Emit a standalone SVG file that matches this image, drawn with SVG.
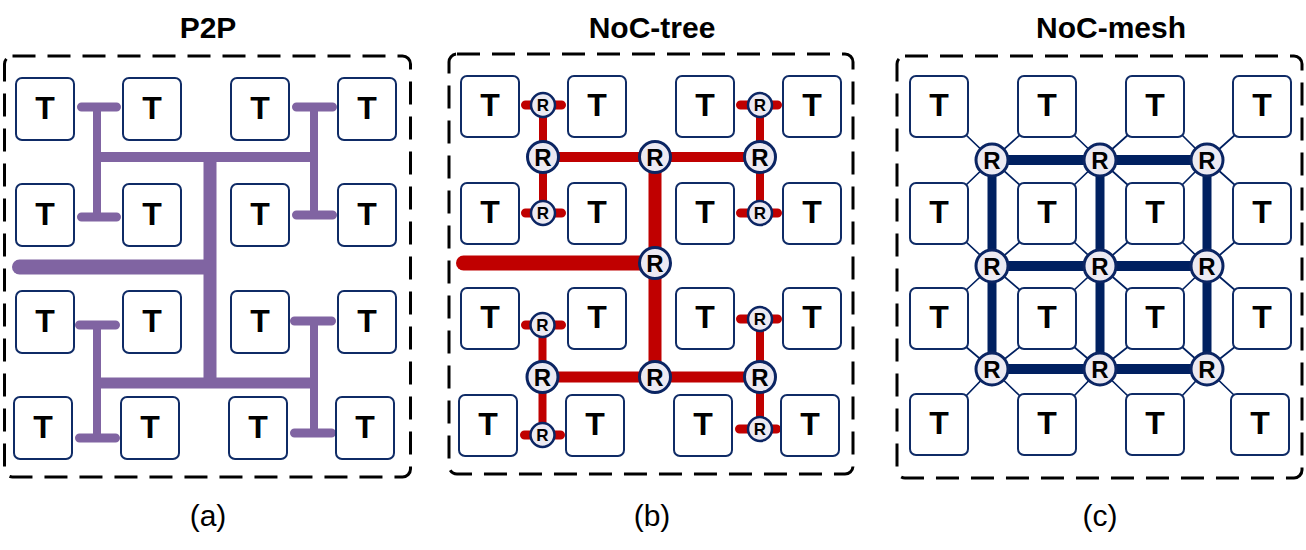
<svg xmlns="http://www.w3.org/2000/svg" width="1306" height="550" viewBox="0 0 1306 550">
<style>
.bg{fill:#ffffff}
.frame{fill:none;stroke:#000;stroke-width:3;stroke-dasharray:23 12}
.tile rect{fill:#fff;stroke:#0F2B66;stroke-width:2}
.tile text{font-family:"Liberation Sans",Arial,sans-serif;font-weight:bold;font-size:32px;text-anchor:middle;fill:#000}
.rt circle{fill:#ECEAF2;stroke:#0B2563;stroke-width:3}
.rt text{font-family:"Liberation Sans",Arial,sans-serif;font-weight:bold;font-size:24px;text-anchor:middle;fill:#000}
.rs circle{fill:#ECEAF2;stroke:#0B2563;stroke-width:2.5}
.rs text{font-family:"Liberation Sans",Arial,sans-serif;font-weight:bold;font-size:17px;text-anchor:middle;fill:#000}
.title{font-family:"Liberation Sans",Arial,sans-serif;font-weight:bold;font-size:30px;text-anchor:middle;fill:#000}
.cap{font-family:"Liberation Sans",Arial,sans-serif;font-size:30px;text-anchor:middle;fill:#000}
.pu{fill:none;stroke:#8064A2}
.rd{fill:none;stroke:#C00000}
.nv{fill:none;stroke:#002060}
</style>
<rect class="bg" x="0" y="0" width="1306" height="550"/>

<text class="title" x="208" y="38">P2P</text>
<text class="title" x="652" y="38">NoC-tree</text>
<text class="title" x="1111" y="38">NoC-mesh</text>
<text class="cap" x="208" y="526">(a)</text>
<text class="cap" x="652" y="526">(b)</text>
<text class="cap" x="1100" y="526">(c)</text>

<rect class="frame" x="4.5" y="56" width="406" height="421" rx="8"/>
<rect class="frame" x="449" y="54" width="404" height="420" rx="8"/>
<rect class="frame" x="897" y="56" width="405" height="422" rx="8"/>

<g id="connectors">
  <!-- (a) P2P purple tree -->
  <path class="pu" stroke-width="9" stroke-linecap="round" d="M81.5 107H116.5M81.5 217H116.5M296.5 107H332.5M296.5 215H332.5M79.5 325H115.5M79.5 438H115.5M294.5 321H331.5M294.5 433H331.5"/>
  <path class="pu" stroke-width="8" d="M97 107V217M314 107V215M97 325V438M314 321V433"/>
  <path class="pu" stroke-width="10" d="M97 157H314"/>
  <path class="pu" stroke-width="11" d="M97 383H314"/>
  <path class="pu" stroke-width="13" d="M210 157V383"/>
  <path class="pu" stroke-width="15" stroke-linecap="round" d="M19.5 267H208"/>
  <!-- (b) NoC-tree red -->
  <path class="rd" stroke-width="9" stroke-linecap="round" d="M525.5 105H561.5M525.5 213H561.5M525.5 325H561.5M524.5 435H560.5M740.5 105H777.5M740.5 213H777.5M740.5 319H777.5M739.5 429H776.5"/>
  <path class="rd" stroke-width="8" d="M543 105V213M760 105V213M542.5 325V435M760 319V429"/>
  <path class="rd" stroke-width="10" d="M543 157H760"/>
  <path class="rd" stroke-width="11" d="M542 377H760"/>
  <path class="rd" stroke-width="13" d="M655 157V377"/>
  <path class="rd" stroke-width="15" stroke-linecap="round" d="M463.5 263H655"/>
  <!-- (c) NoC-mesh -->
  <path class="nv" stroke-width="1.7" d="M992 160L965 134M992 160L1021 134M992 160L965 186M992 160L1021 186
  M1100 160L1073 134M1100 160L1129 134M1100 160L1073 186M1100 160L1129 186
  M1207 160L1181 134M1207 160L1236 134M1207 160L1181 186M1207 160L1236 186
  M992 266L965 241M992 266L1021 241M992 266L965 291M992 266L1021 291
  M1100 266L1073 241M1100 266L1129 241M1100 266L1073 291M1100 266L1129 291
  M1207 266L1181 241M1207 266L1236 241M1207 266L1181 291M1207 266L1236 291
  M992 369L965 346M992 369L1021 346M992 369L965 397M992 369L1021 397
  M1100 369L1073 346M1100 369L1129 346M1100 369L1073 397M1100 369L1129 397
  M1207 369L1181 346M1207 369L1236 346M1207 369L1181 397M1207 369L1236 397"/>
  <path class="nv" stroke-width="10" d="M992 160H1207M992 266H1207M992 369H1207"/>
  <path class="nv" stroke-width="9" d="M992 160V369M1100 160V369M1207 160V369"/>
</g>

<!-- (a) tiles -->
<g id="a-t11" class="tile"><rect x="16" y="78" width="58" height="62" rx="6"/><text x="45" y="119">T</text></g>
<g id="a-t12" class="tile"><rect x="123" y="78" width="58" height="62" rx="6"/><text x="152" y="119">T</text></g>
<g id="a-t13" class="tile"><rect x="231" y="78" width="58" height="62" rx="6"/><text x="260" y="119">T</text></g>
<g id="a-t14" class="tile"><rect x="338" y="78" width="58" height="62" rx="6"/><text x="367" y="119">T</text></g>
<g id="a-t21" class="tile"><rect x="16" y="184" width="58" height="62" rx="6"/><text x="45" y="225">T</text></g>
<g id="a-t22" class="tile"><rect x="123" y="184" width="58" height="62" rx="6"/><text x="152" y="225">T</text></g>
<g id="a-t23" class="tile"><rect x="231" y="184" width="58" height="62" rx="6"/><text x="260" y="225">T</text></g>
<g id="a-t24" class="tile"><rect x="338" y="184" width="58" height="62" rx="6"/><text x="367" y="225">T</text></g>
<g id="a-t31" class="tile"><rect x="16" y="291" width="58" height="62" rx="6"/><text x="45" y="332">T</text></g>
<g id="a-t32" class="tile"><rect x="123" y="291" width="58" height="62" rx="6"/><text x="152" y="332">T</text></g>
<g id="a-t33" class="tile"><rect x="231" y="291" width="58" height="62" rx="6"/><text x="260" y="332">T</text></g>
<g id="a-t34" class="tile"><rect x="338" y="291" width="58" height="62" rx="6"/><text x="367" y="332">T</text></g>
<g id="a-t41" class="tile"><rect x="14" y="397" width="58" height="62" rx="6"/><text x="43" y="438">T</text></g>
<g id="a-t42" class="tile"><rect x="121" y="397" width="58" height="62" rx="6"/><text x="150" y="438">T</text></g>
<g id="a-t43" class="tile"><rect x="229" y="397" width="58" height="62" rx="6"/><text x="258" y="438">T</text></g>
<g id="a-t44" class="tile"><rect x="336" y="397" width="58" height="62" rx="6"/><text x="365" y="438">T</text></g>

<!-- (b) tiles -->
<g id="b-t11" class="tile"><rect x="461" y="76" width="58" height="61" rx="6"/><text x="490" y="116">T</text></g>
<g id="b-t12" class="tile"><rect x="568" y="76" width="58" height="61" rx="6"/><text x="597" y="116">T</text></g>
<g id="b-t13" class="tile"><rect x="676" y="76" width="58" height="61" rx="6"/><text x="705" y="116">T</text></g>
<g id="b-t14" class="tile"><rect x="783" y="76" width="58" height="61" rx="6"/><text x="812" y="116">T</text></g>
<g id="b-t21" class="tile"><rect x="461" y="183" width="58" height="61" rx="6"/><text x="490" y="223">T</text></g>
<g id="b-t22" class="tile"><rect x="568" y="183" width="58" height="61" rx="6"/><text x="597" y="223">T</text></g>
<g id="b-t23" class="tile"><rect x="676" y="183" width="58" height="61" rx="6"/><text x="705" y="223">T</text></g>
<g id="b-t24" class="tile"><rect x="783" y="183" width="58" height="61" rx="6"/><text x="812" y="223">T</text></g>
<g id="b-t31" class="tile"><rect x="461" y="288" width="58" height="61" rx="6"/><text x="490" y="328">T</text></g>
<g id="b-t32" class="tile"><rect x="568" y="288" width="58" height="61" rx="6"/><text x="597" y="328">T</text></g>
<g id="b-t33" class="tile"><rect x="676" y="288" width="58" height="61" rx="6"/><text x="705" y="328">T</text></g>
<g id="b-t34" class="tile"><rect x="783" y="288" width="58" height="61" rx="6"/><text x="812" y="328">T</text></g>
<g id="b-t41" class="tile"><rect x="459" y="395" width="58" height="61" rx="6"/><text x="488" y="435">T</text></g>
<g id="b-t42" class="tile"><rect x="566" y="395" width="58" height="61" rx="6"/><text x="595" y="435">T</text></g>
<g id="b-t43" class="tile"><rect x="674" y="395" width="58" height="61" rx="6"/><text x="703" y="435">T</text></g>
<g id="b-t44" class="tile"><rect x="781" y="395" width="58" height="61" rx="6"/><text x="810" y="435">T</text></g>

<!-- (b) routers -->
<g id="b-rs1" class="rs"><circle cx="543" cy="105" r="12"/><text x="543" y="111">R</text></g>
<g id="b-rs2" class="rs"><circle cx="543" cy="213" r="12"/><text x="543" y="219">R</text></g>
<g id="b-rs3" class="rs"><circle cx="760" cy="105" r="12"/><text x="760" y="111">R</text></g>
<g id="b-rs4" class="rs"><circle cx="760" cy="213" r="12"/><text x="760" y="219">R</text></g>
<g id="b-rs5" class="rs"><circle cx="542.5" cy="325" r="12"/><text x="542.5" y="331">R</text></g>
<g id="b-rs6" class="rs"><circle cx="542.5" cy="435" r="12"/><text x="542.5" y="441">R</text></g>
<g id="b-rs7" class="rs"><circle cx="760" cy="319" r="12"/><text x="760" y="325">R</text></g>
<g id="b-rs8" class="rs"><circle cx="760" cy="429" r="12"/><text x="760" y="435">R</text></g>
<g id="b-rm1" class="rt"><circle cx="543" cy="157" r="15.5"/><text x="543" y="165.5">R</text></g>
<g id="b-rm2" class="rt"><circle cx="655" cy="157" r="15.5"/><text x="655" y="165.5">R</text></g>
<g id="b-rm3" class="rt"><circle cx="760" cy="157" r="15.5"/><text x="760" y="165.5">R</text></g>
<g id="b-rm4" class="rt"><circle cx="655" cy="263" r="15.5"/><text x="655" y="271.5">R</text></g>
<g id="b-rm5" class="rt"><circle cx="542.5" cy="377" r="15.5"/><text x="542.5" y="385.5">R</text></g>
<g id="b-rm6" class="rt"><circle cx="655" cy="377" r="15.5"/><text x="655" y="385.5">R</text></g>
<g id="b-rm7" class="rt"><circle cx="760" cy="377" r="15.5"/><text x="760" y="385.5">R</text></g>

<!-- (c) tiles -->
<g id="c-t11" class="tile"><rect x="910" y="76" width="58" height="61" rx="6"/><text x="939" y="116">T</text></g>
<g id="c-t12" class="tile"><rect x="1018" y="76" width="58" height="61" rx="6"/><text x="1047" y="116">T</text></g>
<g id="c-t13" class="tile"><rect x="1126" y="76" width="58" height="61" rx="6"/><text x="1155" y="116">T</text></g>
<g id="c-t14" class="tile"><rect x="1233" y="76" width="58" height="61" rx="6"/><text x="1262" y="116">T</text></g>
<g id="c-t21" class="tile"><rect x="910" y="183" width="58" height="61" rx="6"/><text x="939" y="223">T</text></g>
<g id="c-t22" class="tile"><rect x="1018" y="183" width="58" height="61" rx="6"/><text x="1047" y="223">T</text></g>
<g id="c-t23" class="tile"><rect x="1126" y="183" width="58" height="61" rx="6"/><text x="1155" y="223">T</text></g>
<g id="c-t24" class="tile"><rect x="1233" y="183" width="58" height="61" rx="6"/><text x="1262" y="223">T</text></g>
<g id="c-t31" class="tile"><rect x="910" y="288" width="58" height="61" rx="6"/><text x="939" y="328">T</text></g>
<g id="c-t32" class="tile"><rect x="1018" y="288" width="58" height="61" rx="6"/><text x="1047" y="328">T</text></g>
<g id="c-t33" class="tile"><rect x="1126" y="288" width="58" height="61" rx="6"/><text x="1155" y="328">T</text></g>
<g id="c-t34" class="tile"><rect x="1233" y="288" width="58" height="61" rx="6"/><text x="1262" y="328">T</text></g>
<g id="c-t41" class="tile"><rect x="910" y="394" width="58" height="61" rx="6"/><text x="939" y="434">T</text></g>
<g id="c-t42" class="tile"><rect x="1018" y="394" width="58" height="61" rx="6"/><text x="1047" y="434">T</text></g>
<g id="c-t43" class="tile"><rect x="1126" y="394" width="58" height="61" rx="6"/><text x="1155" y="434">T</text></g>
<g id="c-t44" class="tile"><rect x="1231" y="394" width="58" height="61" rx="6"/><text x="1260" y="434">T</text></g>

<!-- (c) routers -->
<g id="c-r11" class="rt"><circle cx="992" cy="160" r="16"/><text x="992" y="168.5">R</text></g>
<g id="c-r12" class="rt"><circle cx="1100" cy="160" r="16"/><text x="1100" y="168.5">R</text></g>
<g id="c-r13" class="rt"><circle cx="1207" cy="160" r="16"/><text x="1207" y="168.5">R</text></g>
<g id="c-r21" class="rt"><circle cx="992" cy="266" r="16"/><text x="992" y="274.5">R</text></g>
<g id="c-r22" class="rt"><circle cx="1100" cy="266" r="16"/><text x="1100" y="274.5">R</text></g>
<g id="c-r23" class="rt"><circle cx="1207" cy="266" r="16"/><text x="1207" y="274.5">R</text></g>
<g id="c-r31" class="rt"><circle cx="992" cy="369" r="16"/><text x="992" y="377.5">R</text></g>
<g id="c-r32" class="rt"><circle cx="1100" cy="369" r="16"/><text x="1100" y="377.5">R</text></g>
<g id="c-r33" class="rt"><circle cx="1207" cy="369" r="16"/><text x="1207" y="377.5">R</text></g>
</svg>
